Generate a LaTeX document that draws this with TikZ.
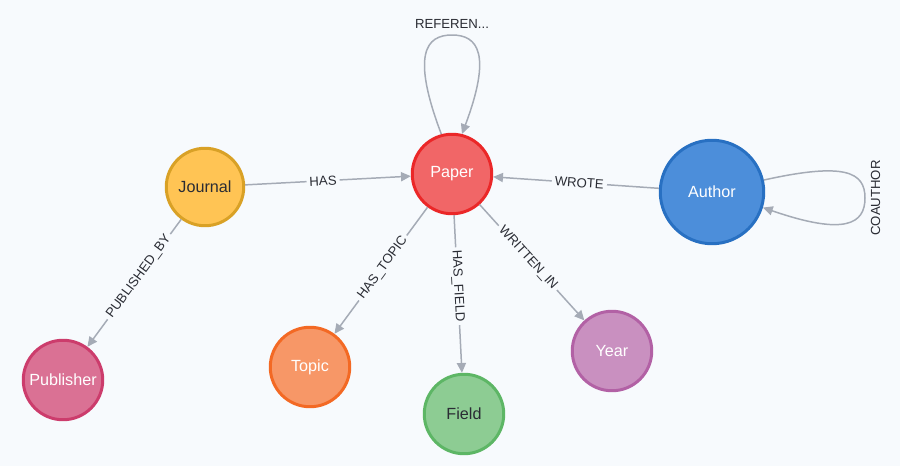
\documentclass[tikz,border=0pt]{standalone}
\usepackage{fontspec}
\setmainfont{Liberation Sans}
\usetikzlibrary{arrows.meta}
\definecolor{fond}{HTML}{F7FAFD}
\definecolor{trait}{HTML}{A5ABB6}
\definecolor{sombre}{HTML}{2A2C34}
\definecolor{paperF}{HTML}{F16667}\definecolor{paperB}{HTML}{EB2728}
\definecolor{journalF}{HTML}{FFC454}\definecolor{journalB}{HTML}{D9A126}
\definecolor{authorF}{HTML}{4C8EDA}\definecolor{authorB}{HTML}{2870C2}
\definecolor{publisherF}{HTML}{DA7194}\definecolor{publisherB}{HTML}{CC3C6C}
\definecolor{topicF}{HTML}{F79767}\definecolor{topicB}{HTML}{F36924}
\definecolor{fieldF}{HTML}{8DCC93}\definecolor{fieldB}{HTML}{5DB665}
\definecolor{yearF}{HTML}{C990C0}\definecolor{yearB}{HTML}{B261A5}
\begin{document}
\begin{tikzpicture}[x=0.02cm,y=-0.02cm, % ------ Le graphe des articles -----------------
    noeud/.style={circle,draw,line width=1.7pt,inner sep=0pt,minimum size=1.59cm,
      text=white,font=\fontsize{9.2}{10}\selectfont},
    rel/.style={draw=trait,line width=0.85pt,-{Triangle[length=5.6pt,width=5.2pt]}},
    etiq/.style={fill=fond,inner sep=1.7pt,text=sombre,sloped,font=\fontsize{7.5}{8}\selectfont},
    boucle/.style={inner sep=3pt,text=sombre,font=\fontsize{7.5}{8}\selectfont}]
    \fill [fond] (0,0) rectangle (900,466);
    \useasboundingbox (0,0) rectangle (900,466);
    \node [noeud,fill=paperF,draw=paperB] (paper) at (452,174) {Paper};
    \node [noeud,fill=journalF,draw=journalB,text=sombre,minimum size=1.55cm] (journal) at (205,187) {Journal};
    \node [noeud,fill=authorF,draw=authorB,minimum size=2.07cm] (author) at (712,192) {Author};
    \node [noeud,fill=publisherF,draw=publisherB] (publisher) at (63,380) {Publisher};
    \node [noeud,fill=topicF,draw=topicB] (topic) at (310,367) {Topic};
    \node [noeud,fill=fieldF,draw=fieldB,text=sombre] (field) at (464,414) {Field};
    \node [noeud,fill=yearF,draw=yearB] (year) at (612,351) {Year};
    \draw [rel] (journal) -- node [etiq,pos=0.47] {HAS} (paper);
    \draw [rel] (author) -- node [etiq,pos=0.48] {WROTE} (paper);
    \draw [rel] (journal) -- node [etiq,pos=0.45] {PUBLISHED\_BY} (publisher);
    \draw [rel] (paper) -- node [etiq,pos=0.48] {HAS\_TOPIC} (topic);
    \draw [rel] (paper) -- node [etiq,pos=0.45] {HAS\_FIELD} (field);
    \draw [rel] (paper) -- node [etiq,pos=0.46] {WRITTEN\_IN} (year);
    \draw [rel] (paper.105) .. controls (411,54) and (426,35) .. (452,35)
      node [boucle,anchor=south] {REFEREN...}
      .. controls (478,35) and (492,54) .. (paper.76);
    \draw [rel] (author.13) .. controls (845,162) and (865,172) .. (865,198)
      node [boucle,rotate=90,anchor=north] {COAUTHOR}
      .. controls (865,224) and (845,236) .. (author.-17);
\end{tikzpicture}
\end{document}
